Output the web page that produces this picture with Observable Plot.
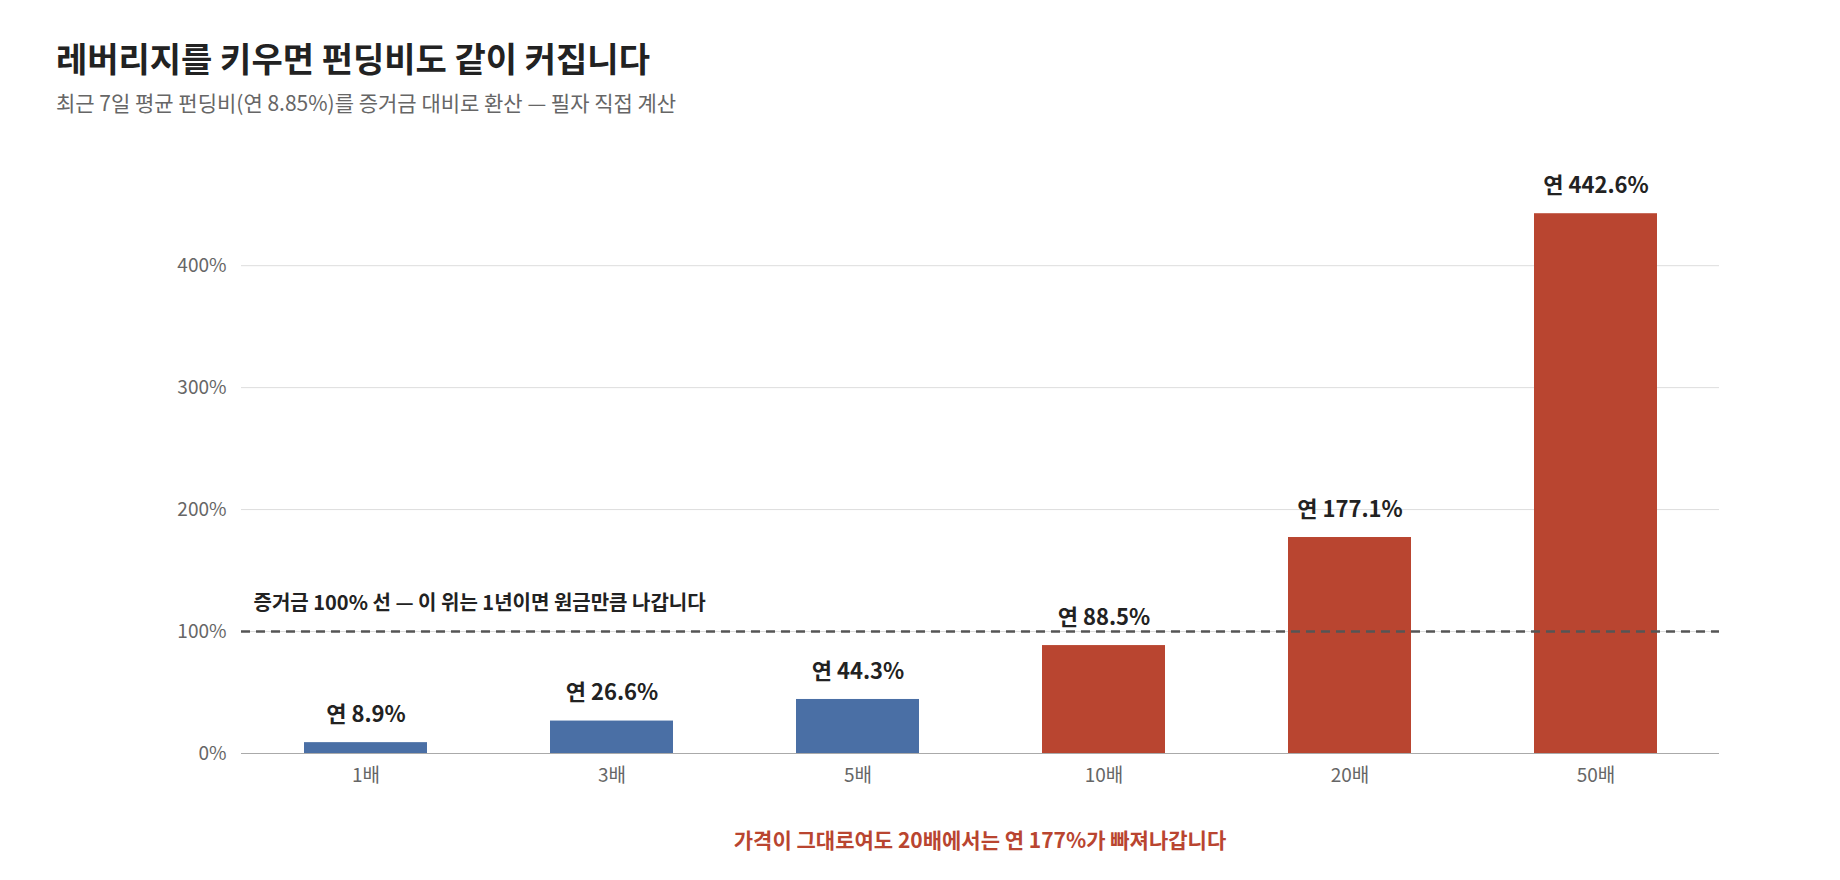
<!DOCTYPE html>
<html><head><meta charset="utf-8">
<script src="https://cdn.jsdelivr.net/npm/d3@7"></script>
<script src="https://cdn.jsdelivr.net/npm/@observablehq/plot@0.6"></script>
<style>
body{margin:0;background:#fff;font-family:"Noto Sans CJK KR","Noto Sans",sans-serif;width:1840px;}
#t{font-size:34px;font-weight:700;color:#222;padding:36px 0 0 56px;line-height:44px;}
#s{font-size:21px;color:#666;padding:8px 0 0 56px;line-height:28px;}
#c{font-size:21px;font-weight:700;color:#b94530;margin-left:241px;width:1478px;text-align:center;margin-top:22px;}
svg{display:block}
</style></head><body>
<div id="t">레버리지를 키우면 펀딩비도 같이 커집니다</div>
<div id="s">최근 7일 평균 펀딩비(연 8.85%)를 증거금 대비로 환산 — 필자 직접 계산</div>
<div id="chart"></div>
<div id="c">가격이 그대로여도 20배에서는 연 177%가 빠져나갑니다</div>
<script>
const leverage = ["1배","3배","5배","10배","20배","50배"];
const annualPct = [8.9,26.6,44.3,88.5,177.1,442.6];
const highRisk = [false,false,false,true,true,true];
const yTicks = [0,100,200,300,400];
const refLine = 100;
const refText = "증거금 100% 선 — 이 위는 1년이면 원금만큼 나갑니다";
const data = leverage.map((l,i)=>({l,v:annualPct[i],r:highRisk[i]}));
const chart = Plot.plot({
  width:1840,height:686,marginLeft:241,marginRight:121,marginTop:76,marginBottom:49,
  style:{fontFamily:"'Noto Sans CJK KR','Noto Sans',sans-serif",fontSize:"19px",color:"#666"},
  x:{domain:leverage,paddingInner:0.5,paddingOuter:0.25,label:null,tickSize:0},
  y:{domain:[0,460],ticks:yTicks,tickFormat:d=>d+"%",label:null,tickSize:0},
  marks:[
    Plot.gridY(yTicks,{stroke:"#ddd",strokeOpacity:1}),
    Plot.barY(data,{x:"l",y:"v",fill:d=>d.r?"#b94530":"#4a6fa5"}),
    Plot.ruleY([0],{stroke:"#aaa"}),
    Plot.ruleY([refLine],{stroke:"#555",strokeWidth:2.5,strokeDasharray:"9,6"}),
    Plot.text([refText],{frameAnchor:"left",y:refLine,dx:12,dy:-28,textAnchor:"start",fill:"#222",fontWeight:700,fontSize:20}),
    Plot.text(data,{x:"l",y:"v",text:d=>"연 "+d.v.toFixed(1)+"%",dy:-28,fill:"#222",fontWeight:700,fontSize:22}),
    Plot.axisY({ticks:yTicks,tickFormat:d=>d+"%",tickSize:0,dx:-6,fill:"#666",label:null}),
    Plot.axisX({tickSize:0,fill:"#666",label:null,dy:6})
  ]
});
document.getElementById("chart").append(chart);
</script></body></html>
